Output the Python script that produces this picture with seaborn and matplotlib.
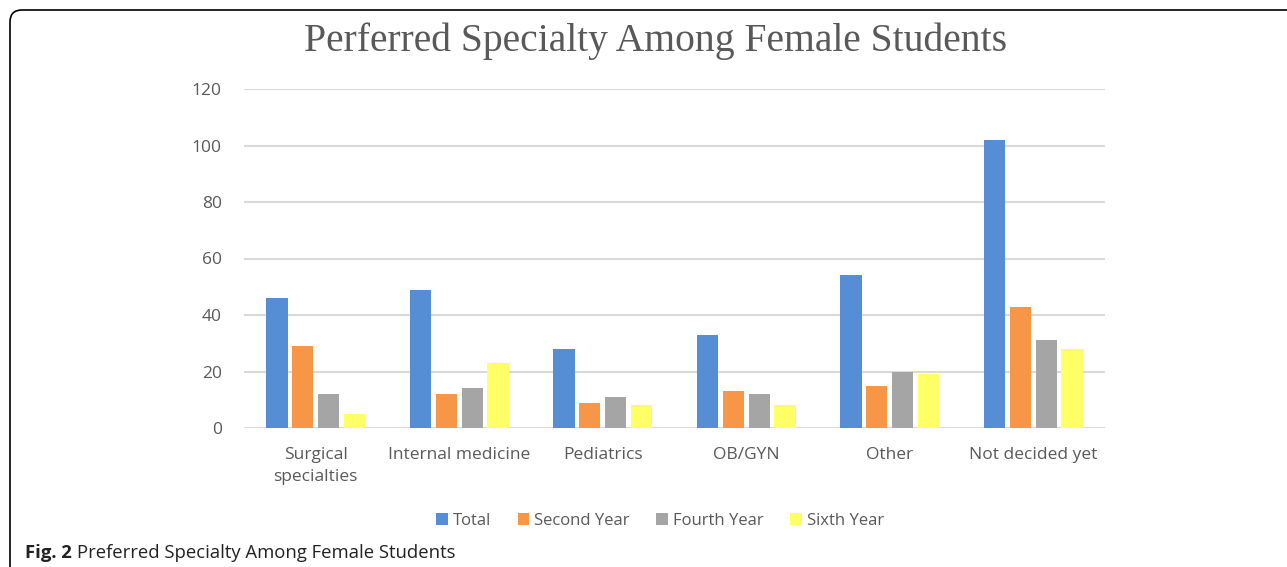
import pandas as pd
import matplotlib
matplotlib.use("Agg")
import matplotlib.pyplot as plt
from matplotlib.patches import FancyBboxPatch
import seaborn as sns

# Du lieu doc tu hinh
categories = ["Surgical\nspecialties", "Internal medicine", "Pediatrics",
              "OB/GYN", "Other", "Not decided yet"]
series = ["Total", "Second Year", "Fourth Year", "Sixth Year"]
total = [46, 49, 28, 33, 54, 102]
second_year = [29, 12, 9, 13, 15, 43]
fourth_year = [12, 14, 11, 12, 20, 31]
sixth_year = [5, 23, 8, 8, 19, 28]
y_ticks = [0, 20, 40, 60, 80, 100, 120]
colors = ["#558ED5", "#F79646", "#A5A5A5", "#FFFF66"]

values = [total, second_year, fourth_year, sixth_year]
data = pd.DataFrame({
    "Category": categories * len(series),
    "Series": [s for s in series for _ in categories],
    "Count": [v for vals in values for v in vals],
})

sns.set_theme(style="white")
plt.rcParams["font.family"] = ["Open Sans", "DejaVu Sans"]
text_color = "#595959"

fig = plt.figure(figsize=(12.87, 5.67), dpi=100)
ax = fig.add_axes([244 / 1287, 1 - 428 / 567, 861 / 1287, 339 / 567])

sns.barplot(data=data, x="Category", y="Count", hue="Series",
            order=categories, hue_order=series, palette=colors,
            width=0.72, gap=0.18, saturation=1, linewidth=0,
            legend=True, ax=ax)

ax.set_ylim(0, 120)
ax.set_yticks(y_ticks)
ax.yaxis.grid(True, color="#D9D9D9", linewidth=1.5)
ax.set_axisbelow(True)
for s in ax.spines.values():
    s.set_visible(False)
ax.set_xlabel("")
ax.set_ylabel("")
ax.tick_params(axis="both", length=0, labelsize=12.5, labelcolor=text_color)
ax.tick_params(axis="x", pad=14)
ax.tick_params(axis="y", pad=16)
for lab in ax.get_xticklabels():
    lab.set_linespacing(1.45)

leg = ax.legend(loc="center", bbox_to_anchor=(660 / 1287, 1 - 521 / 567),
                bbox_transform=fig.transFigure, ncol=4, frameon=False,
                fontsize=12, handlelength=0.7, handleheight=0.7,
                handletextpad=0.3, columnspacing=1.6)
for t in leg.get_texts():
    t.set_color(text_color)

fig.text(655 / 1287, 1 - 41 / 567, "Perferred Specialty Among Female Students",
         ha="center", va="center", fontsize=28.5, color=text_color,
         family=["Liberation Serif", "DejaVu Serif"])

# Khung bo tron
border = FancyBboxPatch((0.1, -1.0), 14.0, 6.57, boxstyle="round,pad=0,rounding_size=0.12",
                        transform=fig.dpi_scale_trans, fill=False,
                        edgecolor="black", linewidth=1.2, clip_on=False)
fig.patches.append(border)

t1 = fig.text(25 / 1287, 1 - 553 / 567, "Fig. 2", fontsize=13.3, fontweight="bold",
              color="#222222", va="center", ha="left")
ax.annotate("Preferred Specialty Among Female Students", xy=(1, 0.5), xycoords=t1,
            xytext=(4, 0), textcoords="offset points", fontsize=13.3,
            color="#222222", va="center", ha="left", annotation_clip=False)

fig.savefig("out.png", dpi=100)
